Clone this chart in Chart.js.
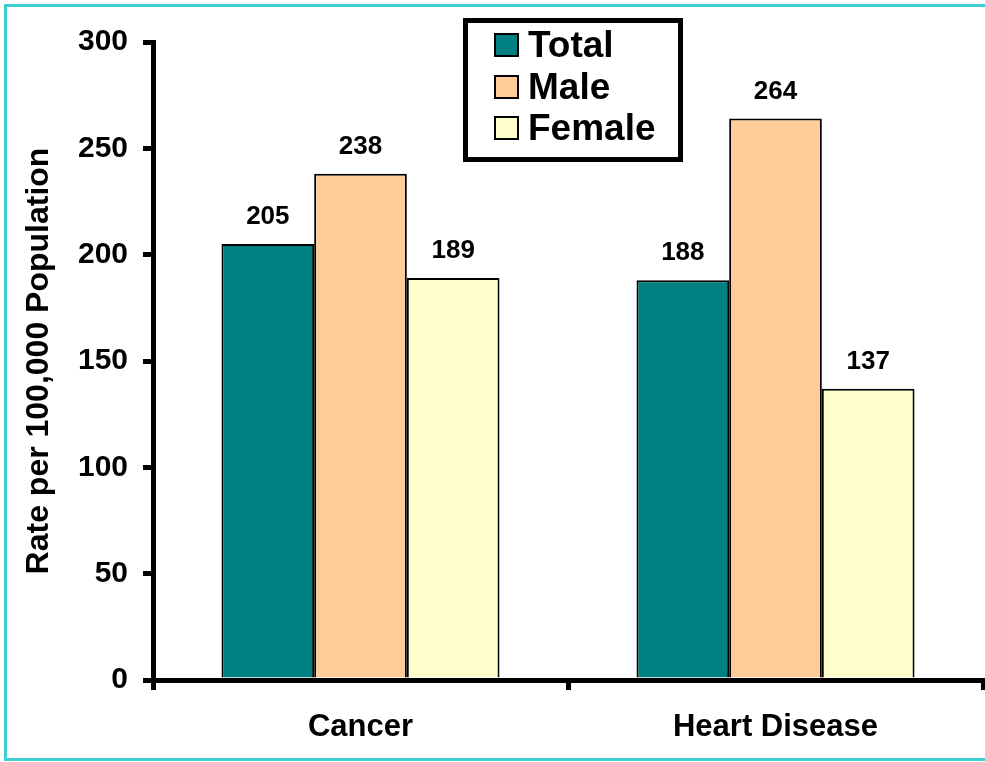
<!DOCTYPE html>
<html>
<head>
<meta charset="utf-8">
<script src="https://cdn.jsdelivr.net/npm/chart.js@4"></script>
<style>
  html, body { margin: 0; padding: 0; background: #fff; }
  #wrap { position: relative; width: 985px; height: 762px; }
  #c { position: absolute; left: 0; top: 0; }
  .bd { position: absolute; background: #3CCFCF; }
</style>
</head>
<body>
<div id="wrap">
  <canvas id="c" width="985" height="762"></canvas>
  <div class="bd" style="left:4px; top:4px; width:981px; height:3px;"></div>
  <div class="bd" style="left:4px; top:4px; width:3px; height:757px;"></div>
  <div class="bd" style="left:4px; top:758px; width:981px; height:3px;"></div>
</div>
<script>
const categories = ["Cancer", "Heart Disease"];
const seriesNames = ["Total", "Male", "Female"];
const totalValues = [205, 188];
const maleValues = [238, 264];
const femaleValues = [189, 137];
const yTicks = [0, 50, 100, 150, 200, 250, 300];
const yTitle = "Rate per 100,000 Population";

const colors = ["#008080", "#FFCC99", "#FFFFCC"];
const FONT = "'Liberation Sans', Arial, Helvetica, sans-serif";

const valueLabels = {
  id: 'valueLabels',
  afterDatasetsDraw(chart) {
    const ctx = chart.ctx;
    ctx.save();
    ctx.font = "bold 26px " + FONT;
    ctx.fillStyle = "#000";
    ctx.textAlign = "center";
    ctx.textBaseline = "alphabetic";
    chart.data.datasets.forEach((ds, i) => {
      chart.getDatasetMeta(i).data.forEach((bar, j) => {
        ctx.fillText(String(ds.data[j]), bar.x, bar.y - 20);
      });
    });
    ctx.restore();
  }
};

const boxLegend = {
  id: 'boxLegend',
  afterDraw(chart) {
    const ctx = chart.ctx;
    ctx.save();
    ctx.fillStyle = "#fff";
    ctx.fillRect(465, 20, 216, 139);
    ctx.strokeStyle = "#000";
    ctx.lineWidth = 5;
    ctx.strokeRect(465.5, 20.5, 215, 139);
    const tops = [33, 75, 116];
    ctx.font = "bold 37px " + FONT;
    ctx.textBaseline = "alphabetic";
    ctx.textAlign = "left";
    chart.data.datasets.forEach((ds, i) => {
      ctx.fillStyle = ds.backgroundColor;
      ctx.fillRect(494, tops[i], 25, 24);
      ctx.lineWidth = 2;
      ctx.strokeStyle = "#000";
      ctx.strokeRect(495, tops[i] + 1, 23, 22);
      ctx.fillStyle = "#000";
      ctx.fillText(ds.label, 528, tops[i] + 24);
    });
    ctx.restore();
  }
};

new Chart(document.getElementById('c'), {
  type: 'bar',
  data: {
    labels: categories,
    datasets: [
      { label: seriesNames[0], data: totalValues, backgroundColor: colors[0] },
      { label: seriesNames[1], data: maleValues, backgroundColor: colors[1] },
      { label: seriesNames[2], data: femaleValues, backgroundColor: colors[2] }
    ].map(d => Object.assign(d, { borderColor: "#000", borderWidth: 2, borderSkipped: 'start', categoryPercentage: 0.67, barPercentage: 1.0 }))
  },
  options: {
    responsive: false,
    animation: false,
    devicePixelRatio: 1,
    layout: { padding: { left: 0, right: 2, top: 42, bottom: 0 } },
    plugins: { legend: { display: false }, tooltip: { enabled: false } },
    scales: {
      x: {
        grid: { display: true, drawOnChartArea: false, drawTicks: true, tickLength: 10, color: "#000", lineWidth: 5, offset: true },
        border: { display: true, color: "#000", width: 5 },
        ticks: { color: "#000", font: { family: FONT, size: 31, weight: 'bold' }, padding: 19 },
        afterFit(scale) { scale.height = 82; }
      },
      y: {
        min: 0, max: 300,
        afterBuildTicks(scale) { scale.ticks = yTicks.map(v => ({ value: v })); },
        grid: { display: true, drawOnChartArea: false, drawTicks: true, tickLength: 10, color: "#000", lineWidth: 5 },
        border: { display: true, color: "#000", width: 5 },
        ticks: { color: "#000", font: { family: FONT, size: 30, weight: 'bold' }, padding: 15 },
        title: { display: true, text: yTitle, color: "#000", font: { family: FONT, size: 32, weight: 'bold' }, padding: { top: 20, bottom: 0 } },
        afterFit(scale) { scale.width = 153; }
      }
    }
  },
  plugins: [valueLabels, boxLegend]
});
</script>
</body>
</html>
